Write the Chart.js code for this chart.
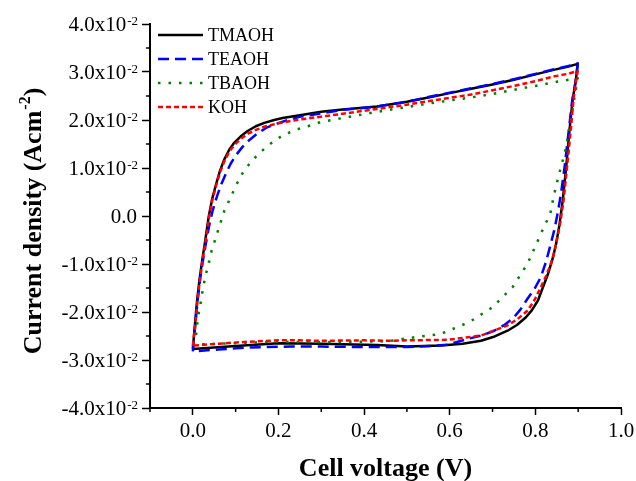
<!DOCTYPE html>
<html>
<head>
<meta charset="utf-8">
<script src="https://cdn.jsdelivr.net/npm/chart.js@4.4.1/dist/chart.umd.min.js"></script>
<style>
  html, body { margin: 0; padding: 0; background: #fff; }
  canvas { display: block; }
</style>
</head>
<body>
<canvas id="myChart" width="636" height="481"></canvas>
<script>
const seriesNames = ['TMAOH', 'TEAOH', 'TBAOH', 'KOH'];

// cell voltage (V) and current density (A cm^-2), one closed CV loop per electrolyte
const tmaohV = [0.000, 0.005, 0.010, 0.016, 0.022, 0.030, 0.037, 0.045, 0.054, 0.063, 0.073, 0.085, 0.097, 0.112, 0.128, 0.147, 0.167, 0.190, 0.210, 0.250, 0.300, 0.350, 0.430, 0.500, 0.556, 0.600, 0.650, 0.700, 0.750, 0.800, 0.845, 0.875, 0.899,
  0.894, 0.887, 0.879, 0.872, 0.864, 0.856, 0.848, 0.840, 0.829, 0.817, 0.806, 0.792, 0.778, 0.757, 0.735, 0.705, 0.673, 0.630, 0.580, 0.500, 0.430, 0.350, 0.300, 0.200, 0.100, 0.050, 0.000];
const tmaohJ = [-0.0277, -0.0225, -0.0176, -0.0130, -0.0092, -0.0045, -0.0002, 0.0035, 0.0065, 0.0093, 0.0117, 0.0138, 0.0153, 0.0166, 0.0177, 0.0187, 0.0194, 0.0200, 0.0204, 0.0210, 0.0217, 0.0222, 0.0228, 0.0238, 0.0248, 0.0256, 0.0265, 0.0274, 0.0284, 0.0295, 0.0305, 0.0311, 0.0317,
  0.0280, 0.0242, 0.0172, 0.0102, 0.0033, -0.0020, -0.0060, -0.0090, -0.0122, -0.0150, -0.0176, -0.0196, -0.0211, -0.0227, -0.0239, -0.0251, -0.0260, -0.0266, -0.0270, -0.0272, -0.0269, -0.0267, -0.0266, -0.0265, -0.0271, -0.0274, -0.0277];

const teaohV = [0.000, 0.006, 0.012, 0.018, 0.025, 0.033, 0.040, 0.046, 0.056, 0.066, 0.078, 0.089, 0.102, 0.116, 0.133, 0.151, 0.172, 0.198, 0.225, 0.252, 0.300, 0.350, 0.430, 0.500, 0.556, 0.600, 0.650, 0.700, 0.750, 0.800, 0.845, 0.875, 0.899,
  0.894, 0.886, 0.877, 0.868, 0.860, 0.852, 0.844, 0.836, 0.825, 0.813, 0.798, 0.782, 0.765, 0.747, 0.726, 0.704, 0.675, 0.642, 0.595, 0.570, 0.500, 0.400, 0.300, 0.229, 0.128, 0.060, 0.000];
const teaohJ = [-0.0282, -0.0225, -0.0170, -0.0125, -0.0085, -0.0045, -0.0012, 0.0010, 0.0040, 0.0065, 0.0090, 0.0110, 0.0128, 0.0144, 0.0159, 0.0172, 0.0184, 0.0193, 0.0201, 0.0207, 0.0214, 0.0221, 0.0228, 0.0238, 0.0249, 0.0257, 0.0266, 0.0275, 0.0285, 0.0296, 0.0306, 0.0312, 0.0318,
  0.0280, 0.0240, 0.0170, 0.0100, 0.0047, 0.0005, -0.0030, -0.0058, -0.0095, -0.0127, -0.0152, -0.0172, -0.0195, -0.0214, -0.0228, -0.0239, -0.0249, -0.0256, -0.0268, -0.0270, -0.0273, -0.0273, -0.0272, -0.0272, -0.0274, -0.0278, -0.0282];

const tbaohV = [0.000, 0.006, 0.012, 0.018, 0.023, 0.029, 0.037, 0.044, 0.054, 0.064, 0.074, 0.089, 0.101, 0.116, 0.136, 0.159, 0.182, 0.210, 0.241, 0.276, 0.300, 0.430, 0.556, 0.650, 0.700, 0.750, 0.800, 0.845, 0.899,
  0.891, 0.883, 0.872, 0.864, 0.856, 0.848, 0.841, 0.835, 0.820, 0.806, 0.782, 0.747, 0.700, 0.646, 0.578, 0.515, 0.455, 0.300, 0.200, 0.100, 0.000];
const tbaohJ = [-0.0268, -0.0262, -0.0211, -0.0183, -0.0155, -0.0127, -0.0099, -0.0072, -0.0044, -0.0016, 0.0012, 0.0040, 0.0064, 0.0089, 0.0113, 0.0134, 0.0151, 0.0168, 0.0180, 0.0189, 0.0196, 0.0217, 0.0235, 0.0247, 0.0254, 0.0263, 0.0271, 0.0279, 0.0287,
  0.0245, 0.0200, 0.0144, 0.0116, 0.0089, 0.0061, 0.0033, 0.0005, -0.0023, -0.0051, -0.0099, -0.0148, -0.0190, -0.0221, -0.0246, -0.0253, -0.0261, -0.0263, -0.0262, -0.0265, -0.0268];

const kohV = [0.000, 0.006, 0.011, 0.017, 0.023, 0.031, 0.038, 0.046, 0.055, 0.064, 0.074, 0.086, 0.099, 0.114, 0.130, 0.149, 0.167, 0.190, 0.210, 0.250, 0.300, 0.350, 0.430, 0.500, 0.556, 0.600, 0.650, 0.700, 0.750, 0.800, 0.845, 0.875, 0.899,
  0.895, 0.889, 0.882, 0.874, 0.866, 0.858, 0.850, 0.843, 0.836, 0.825, 0.813, 0.798, 0.782, 0.758, 0.735, 0.700, 0.673, 0.630, 0.595, 0.500, 0.455, 0.400, 0.300, 0.250, 0.200, 0.128, 0.060, 0.000];
const kohJ = [-0.0270, -0.0225, -0.0176, -0.0130, -0.0092, -0.0045, -0.0002, 0.0035, 0.0065, 0.0092, 0.0115, 0.0135, 0.0150, 0.0162, 0.0172, 0.0180, 0.0186, 0.0191, 0.0195, 0.0201, 0.0207, 0.0213, 0.0223, 0.0232, 0.0240, 0.0246, 0.0253, 0.0262, 0.0271, 0.0281, 0.0291, 0.0296, 0.0302,
  0.0280, 0.0242, 0.0172, 0.0102, 0.0033, -0.0015, -0.0051, -0.0080, -0.0100, -0.0125, -0.0148, -0.0175, -0.0197, -0.0215, -0.0228, -0.0240, -0.0249, -0.0254, -0.0258, -0.0259, -0.0260, -0.0259, -0.0260, -0.0259, -0.0259, -0.0262, -0.0266, -0.0270];

const xTicks = [0, 0.2, 0.4, 0.6, 0.8, 1.0];
const xTickLabels = ['0.0', '0.2', '0.4', '0.6', '0.8', '1.0'];
const xMinorTicks = [-0.1, 0.1, 0.3, 0.5, 0.7, 0.9];
const yTicks = [-0.04, -0.03, -0.02, -0.01, 0, 0.01, 0.02, 0.03, 0.04];
const yTickLabels = ['-4.0x10', '-3.0x10', '-2.0x10', '-1.0x10', '0.0', '1.0x10', '2.0x10', '3.0x10', '4.0x10'];
const yTickExponents = ['-2', '-2', '-2', '-2', '', '-2', '-2', '-2', '-2'];
const yMinorTicks = [-0.035, -0.025, -0.015, -0.005, 0.005, 0.015, 0.025, 0.035];

const serif = '"Times New Roman", "Liberation Serif", serif';

function toPoints(vs, js) {
  return vs.map((v, i) => ({ x: v, y: js[i] }));
}

const datasets = [
  { label: seriesNames[0], data: toPoints(tmaohV, tmaohJ), borderColor: '#000000', borderWidth: 2.5, borderDash: [], order: 4 },
  { label: seriesNames[1], data: toPoints(teaohV, teaohJ), borderColor: '#0000ff', borderWidth: 2.5, borderDash: [11, 6], order: 3 },
  { label: seriesNames[2], data: toPoints(tbaohV, tbaohJ), borderColor: '#008000', borderWidth: 2.5, borderDash: [2.5, 8], order: 2 },
  { label: seriesNames[3], data: toPoints(kohV, kohJ), borderColor: '#ff0000', borderWidth: 2.5, borderDash: [5, 3], order: 1 }
].map(d => Object.assign(d, { showLine: true, fill: false, pointRadius: 0, tension: 0, borderJoinStyle: 'round' }));

// minor ticks, y labels with superscripts, y title and legend
const decorations = {
  id: 'decorations',
  afterDraw(chart) {
    const { ctx, scales: { x, y } } = chart;
    ctx.save();
    ctx.strokeStyle = '#000';
    ctx.lineWidth = 1.5;
    ctx.setLineDash([]);
    xMinorTicks.forEach(v => {
      const px = x.getPixelForValue(v);
      ctx.beginPath(); ctx.moveTo(px, y.bottom); ctx.lineTo(px, y.bottom + 4); ctx.stroke();
    });
    yMinorTicks.forEach(v => {
      const py = y.getPixelForValue(v);
      ctx.beginPath(); ctx.moveTo(x.left - 4, py); ctx.lineTo(x.left, py); ctx.stroke();
    });

    // y tick labels
    ctx.fillStyle = '#000';
    ctx.textBaseline = 'alphabetic';
    ctx.textAlign = 'left';
    const right = x.left - 13;
    yTicks.forEach((v, i) => {
      const py = y.getPixelForValue(v);
      ctx.font = '21px ' + serif;
      const wMain = ctx.measureText(yTickLabels[i]).width;
      ctx.font = '13px ' + serif;
      const wSup = yTickExponents[i] ? ctx.measureText(yTickExponents[i]).width : 0;
      const x0 = right - wMain - wSup;
      ctx.font = '21px ' + serif;
      ctx.fillText(yTickLabels[i], x0, py + 7);
      if (wSup) {
        ctx.font = '13px ' + serif;
        ctx.fillText(yTickExponents[i], x0 + wMain + 1, py + 1);
      }
    });

    // y axis title
    ctx.save();
    ctx.translate(41, 221);
    ctx.rotate(-Math.PI / 2);
    ctx.font = 'bold 26px ' + serif;
    const t1 = 'Current density (Acm', t3 = ')';
    const w1 = ctx.measureText(t1).width, w3 = ctx.measureText(t3).width;
    ctx.font = 'bold 16px ' + serif;
    const w2 = ctx.measureText('-2').width;
    let sx = -(w1 + w2 + w3 + 1) / 2;
    ctx.font = 'bold 26px ' + serif;
    ctx.fillText(t1, sx, 0);
    ctx.font = 'bold 16px ' + serif;
    ctx.fillText('-2', sx + w1 + 1, -11);
    ctx.font = 'bold 26px ' + serif;
    ctx.fillText(t3, sx + w1 + w2 + 1, 0);
    ctx.restore();

    // legend
    const rows = [35, 59, 83, 107];
    chart.data.datasets.forEach((ds, i) => {
      ctx.strokeStyle = ds.borderColor;
      ctx.lineWidth = ds.borderWidth;
      ctx.setLineDash(ds.borderDash);
      ctx.beginPath(); ctx.moveTo(158, rows[i]); ctx.lineTo(203, rows[i]); ctx.stroke();
      ctx.setLineDash([]);
      ctx.fillStyle = '#000';
      ctx.font = '18px ' + serif;
      ctx.textBaseline = 'middle';
      ctx.fillText(ds.label, 208, rows[i] + 1);
    });
    ctx.restore();
  }
};

const ctx = document.getElementById('myChart').getContext('2d');
new Chart(ctx, {
  type: 'scatter',
  data: { datasets },
  options: {
    responsive: false,
    animation: false,
    devicePixelRatio: 1,
    layout: { padding: { left: 0, top: 24, right: 15, bottom: 0 } },
    plugins: { legend: { display: false }, tooltip: { enabled: false } },
    scales: {
      x: {
        type: 'linear',
        min: -0.1,
        max: 1.0,
        afterBuildTicks: s => { s.ticks = xTicks.map(v => ({ value: v })); },
        afterFit: s => { s.height = 73; s.paddingLeft = 0; s.paddingRight = 0; },
        ticks: {
          padding: 4,
          color: '#000',
          font: { family: serif, size: 21 },
          callback: (v) => xTickLabels[xTicks.findIndex(t => Math.abs(t - v) < 1e-6)]
        },
        grid: { drawOnChartArea: false, drawTicks: true, tickLength: 7, tickColor: '#000', tickWidth: 1.5 },
        border: { display: true, color: '#000', width: 2 },
        title: { display: true, text: 'Cell voltage (V)', color: '#000', font: { family: serif, size: 26, weight: 'bold' }, padding: { top: 0, bottom: -4 } }
      },
      y: {
        type: 'linear',
        min: -0.04,
        max: 0.04,
        afterBuildTicks: s => { s.ticks = yTicks.map(v => ({ value: v })); },
        afterFit: s => { s.width = 150; s.paddingTop = 0; s.paddingBottom = 0; },
        ticks: { display: false },
        grid: { drawOnChartArea: false, drawTicks: true, tickLength: 8, tickColor: '#000', tickWidth: 1.5 },
        border: { display: true, color: '#000', width: 2 }
      }
    }
  },
  plugins: [decorations]
});
</script>
</body>
</html>
